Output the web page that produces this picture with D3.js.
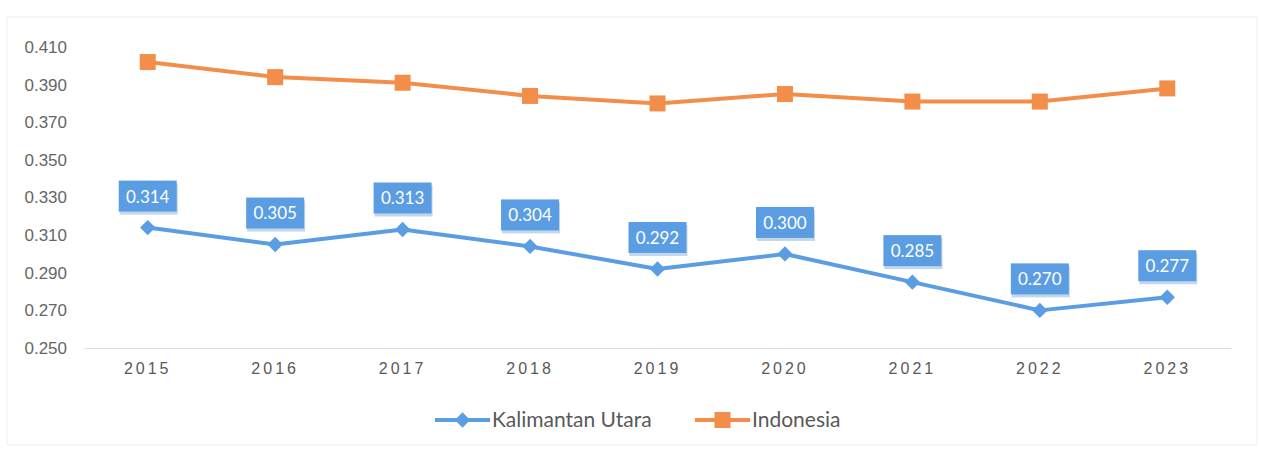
<!DOCTYPE html>
<html>
<head>
<meta charset="utf-8">
<script src="https://cdn.jsdelivr.net/npm/d3@7"></script>
<style>
  body { margin: 0; background: #fff; }
  svg { font-family: Lato, "Open Sans", sans-serif; }
</style>
</head>
<body>
<div id="chart"></div>
<script>
var years = ["2015", "2016", "2017", "2018", "2019", "2020", "2021", "2022", "2023"];
var kaltara = [0.314, 0.305, 0.313, 0.304, 0.292, 0.300, 0.285, 0.270, 0.277];
var indonesia = [0.402, 0.394, 0.391, 0.384, 0.380, 0.385, 0.381, 0.381, 0.388];
var yTicks = [0.250, 0.270, 0.290, 0.310, 0.330, 0.350, 0.370, 0.390, 0.410];
var seriesNames = ["Kalimantan Utara", "Indonesia"];

var width = 1261, height = 449;
var blue = "#5b9de3", orange = "#f28e4a";

var svg = d3.select("#chart")
  .append("svg")
    .attr("width", width)
    .attr("height", height);

// faint outer frame
svg.append("rect")
  .attr("x", 7).attr("y", 17)
  .attr("width", 1250).attr("height", 428)
  .attr("fill", "none")
  .attr("stroke", "#f0f0f0");

var x = d3.scaleBand()
  .domain(years)
  .range([84, 1231]);

var y = d3.scaleLinear()
  .domain([0.250, 0.410])
  .range([348, 47]);

// y axis labels
var yAxis = svg.append("g")
  .attr("transform", "translate(67,0)")
  .call(d3.axisLeft(y).tickValues(yTicks).tickFormat(d3.format(".3f")).tickSize(0).tickPadding(0));
yAxis.select(".domain").remove();
yAxis.selectAll("text")
  .attr("fill", "#666")
  .style("font-size", "17px");

// x axis
var xAxis = svg.append("g")
  .attr("transform", "translate(0,348)")
  .call(d3.axisBottom(x).tickSize(0).tickPadding(15));
xAxis.select(".domain").attr("stroke", "#dcdcdc");
xAxis.selectAll("text")
  .attr("fill", "#595959")
  .style("font-size", "16px")
  .style("letter-spacing", "3px");

function cx(d, i) { return x(years[i]) + x.bandwidth() / 2; }

var line = d3.line()
  .x(cx)
  .y(function(d) { return y(d); });

// Indonesia
svg.append("path")
  .datum(indonesia)
  .attr("d", line)
  .attr("fill", "none")
  .attr("stroke", orange)
  .attr("stroke-width", 4)
  .attr("stroke-linejoin", "round");

svg.selectAll(".sq")
  .data(indonesia)
  .enter().append("rect")
    .attr("class", "sq")
    .attr("x", function(d, i) { return cx(d, i) - 8; })
    .attr("y", function(d) { return y(d) - 8; })
    .attr("width", 16).attr("height", 16)
    .attr("fill", orange);

// Kalimantan Utara
svg.append("path")
  .datum(kaltara)
  .attr("d", line)
  .attr("fill", "none")
  .attr("stroke", blue)
  .attr("stroke-width", 4)
  .attr("stroke-linejoin", "round");

var diamond = d3.symbol().type(d3.symbolDiamond2).size(150);

svg.selectAll(".dm")
  .data(kaltara)
  .enter().append("path")
    .attr("class", "dm")
    .attr("d", diamond)
    .attr("transform", function(d, i) { return "translate(" + cx(d, i) + "," + y(d) + ")"; })
    .attr("fill", blue);

// data labels
var lab = svg.selectAll(".lab")
  .data(kaltara)
  .enter().append("g")
    .attr("class", "lab")
    .attr("transform", function(d, i) { return "translate(" + cx(d, i) + "," + (y(d) - 31) + ")"; });

lab.append("rect")
  .attr("x", -29).attr("y", -15)
  .attr("width", 58).attr("height", 31)
  .attr("fill", "#c4d6ea")
  .attr("transform", "translate(1,2)");
lab.append("rect")
  .attr("x", -29).attr("y", -16)
  .attr("width", 58).attr("height", 31)
  .attr("fill", blue);
lab.append("text")
  .attr("text-anchor", "middle")
  .attr("dy", "0.35em")
  .attr("fill", "#fff")
  .style("font-size", "17px")
  .text(function(d) { return d3.format(".3f")(d); });

// legend
var legend = svg.append("g").attr("transform", "translate(0,420)");
var lx = [435, 695];
seriesNames.forEach(function(name, i) {
  var c = i == 0 ? blue : orange;
  var g = legend.append("g").attr("transform", "translate(" + lx[i] + ",0)");
  g.append("line")
    .attr("x1", 0).attr("x2", 55)
    .attr("stroke", c).attr("stroke-width", 4);
  if (i == 0) {
    g.append("path")
      .attr("d", diamond)
      .attr("transform", "translate(27.5,0)")
      .attr("fill", c);
  } else {
    g.append("rect")
      .attr("x", 19.5).attr("y", -8)
      .attr("width", 16).attr("height", 16)
      .attr("fill", c);
  }
  g.append("text")
    .attr("x", 57)
    .attr("dy", "0.35em")
    .attr("fill", "#595959")
    .style("font-size", "21px")
    .text(name);
});
</script>
</body>
</html>
